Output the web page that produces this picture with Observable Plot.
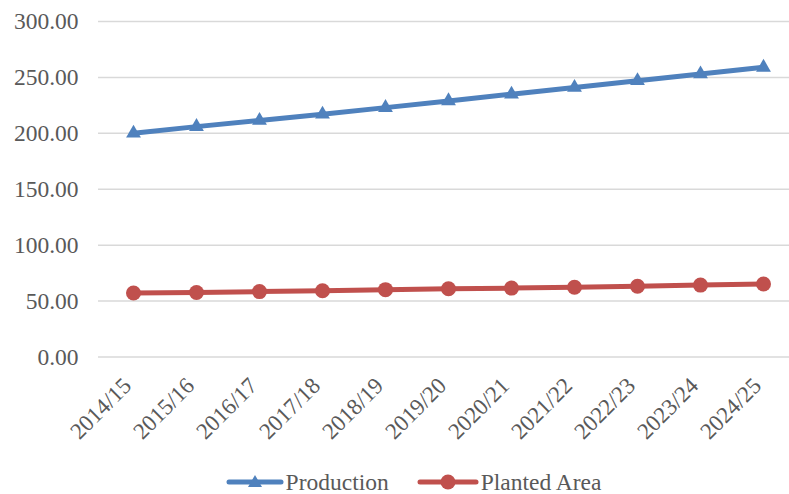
<!DOCTYPE html>
<html>
<head>
<meta charset="utf-8">
<script src="https://cdn.jsdelivr.net/npm/d3@7"></script>
<script src="https://cdn.jsdelivr.net/npm/@observablehq/plot@0.6"></script>
<style>
  html, body { margin: 0; padding: 0; background: #fff; }
  #chart { width: 789px; font-family: "Liberation Serif", "Times New Roman", serif; }
  #legend { display: flex; justify-content: center; align-items: center; height: 24px; line-height: 24px; font-size: 23.5px; color: #595959; font-family: "Liberation Serif", serif; padding-left: 38px; box-sizing: border-box; }
  .item { display: flex; align-items: center; margin: 0 14px; }
  .item svg { margin-right: 2px; }
</style>
</head>
<body>
<div id="chart"></div>
<script>
const seasons = ["2014/15","2015/16","2016/17","2017/18","2018/19","2019/20","2020/21","2021/22","2022/23","2023/24","2024/25"];
const production = [200, 206, 211.5, 217, 223, 229, 235, 241, 247, 253, 259];
const plantedArea = [57.2, 57.7, 58.5, 59.3, 60.2, 61.0, 61.6, 62.4, 63.3, 64.3, 65.3];
const yTicks = [0, 50, 100, 150, 200, 250, 300];
const seriesNames = ["Production", "Planted Area"];
const colors = ["#4F81BD", "#C0504D"];

const prodData = seasons.map((s, i) => ({season: s, value: production[i]}));
const areaData = seasons.map((s, i) => ({season: s, value: plantedArea[i]}));

const chart = Plot.plot({
  width: 789,
  height: 470,
  marginLeft: 98,
  marginRight: -8,
  marginTop: 21,
  marginBottom: 113.5,
  style: {fontFamily: "Liberation Serif, serif", color: "#595959", background: "#fff"},
  x: {type: "point", domain: seasons, padding: 0.5, label: null},
  y: {domain: [0, 300], label: null},
  marks: [
    Plot.ruleY(yTicks, {stroke: "#d9d9d9", strokeWidth: 1.5}),
    Plot.axisY({ticks: yTicks, tickFormat: d => d.toFixed(2), tickSize: 0, tickPadding: 20, fontSize: 23.5, label: null}),
    Plot.axisX({tickSize: 0, tickRotate: -45, tickPadding: 20, fontSize: 23, dx: -6, dy: 5, label: null}),
    Plot.line(prodData, {x: "season", y: "value", stroke: colors[0], strokeWidth: 5}),
    Plot.dot(prodData, {x: "season", y: "value", symbol: "triangle", r: 5.5, fill: colors[0]}),
    Plot.line(areaData, {x: "season", y: "value", stroke: colors[1], strokeWidth: 5}),
    Plot.dot(areaData, {x: "season", y: "value", symbol: "circle", r: 7.5, fill: colors[1]})
  ]
});
document.getElementById("chart").appendChild(chart);

const legend = document.createElement("div");
legend.id = "legend";
const icons = [
  `<svg width="58" height="16"><line x1="3" y1="8" x2="55" y2="8" stroke="${colors[0]}" stroke-width="5" stroke-linecap="round"/><path d="M29,1 L36,13 L22,13 Z" fill="${colors[0]}"/></svg>`,
  `<svg width="62" height="18"><line x1="3" y1="9" x2="59" y2="9" stroke="${colors[1]}" stroke-width="5" stroke-linecap="round"/><circle cx="31" cy="9" r="7.5" fill="${colors[1]}"/></svg>`
];
seriesNames.forEach((name, i) => {
  const item = document.createElement("div");
  item.className = "item";
  item.innerHTML = icons[i] + `<span>${name}</span>`;
  legend.appendChild(item);
});
document.getElementById("chart").appendChild(legend);
</script>
</body>
</html>
